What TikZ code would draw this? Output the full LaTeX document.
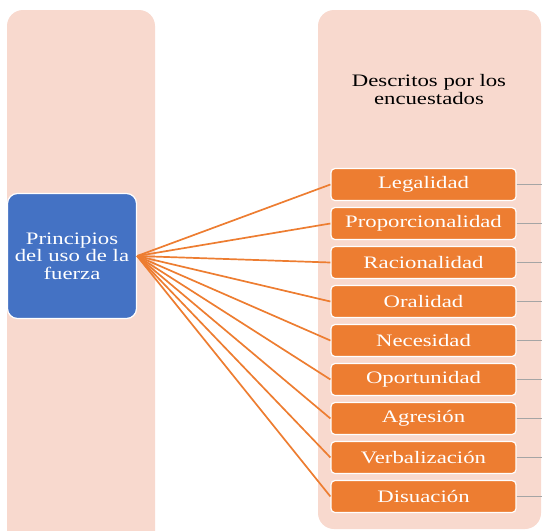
\documentclass[tikz,border=0pt]{standalone}
\usepackage{fontspec}
\setmainfont[FakeStretch=1.3]{Liberation Serif}
\usetikzlibrary{positioning}
\definecolor{panelpink}{RGB}{248,217,206}
\definecolor{boxorange}{RGB}{237,125,49}
\definecolor{boxblue}{RGB}{68,114,196}
\definecolor{stubgray}{RGB}{165,165,165}

\begin{document}
\begin{tikzpicture}[
    x=1pt, y=-1pt,
    node distance=5.8pt,
    panel/.style={fill=panelpink, rounded corners=16pt},
    item/.style={draw=white, line width=1.2pt, fill=boxorange, rounded corners=4pt, minimum width=185pt, minimum height=32pt, inner sep=0pt, text=white, font=\fontsize{17.5}{18}\selectfont},
    principle/.style={draw=white, line width=1.2pt, fill=boxblue, rounded corners=10pt, minimum width=129pt, minimum height=125pt, align=center, text=white, font=\fontsize{17.5}{17.5}\selectfont},
    heading/.style={align=center, font=\fontsize{17.5}{18}\selectfont},
    link/.style={draw=boxorange, line width=1.7pt},
    stub/.style={draw=stubgray, line width=1.6pt}
]
\useasboundingbox (0,0) rectangle (542,531);
\clip (0,0) rectangle (542,531);

% Background panels
\fill[panel] (7,560) rectangle (155,10);
\fill[panel] (318,529) rectangle (541,10);

% Heading of the right panel
\node[heading] (heading) at (429,90) {Descritos por los\\encuestados};

% Left box
\node[principle] (principios) at (72,256) {Principios\\del uso de la\\fuerza};

% Column of principles
\node[item] (legalidad) at (423.5,184.5) {Legalidad};
\node[item, below=of legalidad] (proporcionalidad) {Proporcionalidad};
\node[item, below=of proporcionalidad] (racionalidad) {Racionalidad};
\node[item, below=of racionalidad] (oralidad) {Oralidad};
\node[item, below=of oralidad] (necesidad) {Necesidad};
\node[item, below=of necesidad] (oportunidad) {Oportunidad};
\node[item, below=of oportunidad] (agresion) {Agresión};
\node[item, below=of agresion] (verbalizacion) {Verbalización};
\node[item, below=of verbalizacion] (disuacion) {Disuación};

\coordinate (rightedge) at (542,0);

% Links from the left box
\draw[link] (principios.east) -- (legalidad.west);
\draw[link] (principios.east) -- (proporcionalidad.west);
\draw[link] (principios.east) -- (racionalidad.west);
\draw[link] (principios.east) -- (oralidad.west);
\draw[link] (principios.east) -- (necesidad.west);
\draw[link] (principios.east) -- (oportunidad.west);
\draw[link] (principios.east) -- (agresion.west);
\draw[link] (principios.east) -- (verbalizacion.west);
\draw[link] (principios.east) -- (disuacion.west);

% Stubs on the right
\draw[stub] (legalidad.east) -- (legalidad.east -| rightedge);
\draw[stub] (proporcionalidad.east) -- (proporcionalidad.east -| rightedge);
\draw[stub] (racionalidad.east) -- (racionalidad.east -| rightedge);
\draw[stub] (oralidad.east) -- (oralidad.east -| rightedge);
\draw[stub] (necesidad.east) -- (necesidad.east -| rightedge);
\draw[stub] (oportunidad.east) -- (oportunidad.east -| rightedge);
\draw[stub] (agresion.east) -- (agresion.east -| rightedge);
\draw[stub] (verbalizacion.east) -- (verbalizacion.east -| rightedge);
\draw[stub] (disuacion.east) -- (disuacion.east -| rightedge);

\end{tikzpicture}
\end{document}
